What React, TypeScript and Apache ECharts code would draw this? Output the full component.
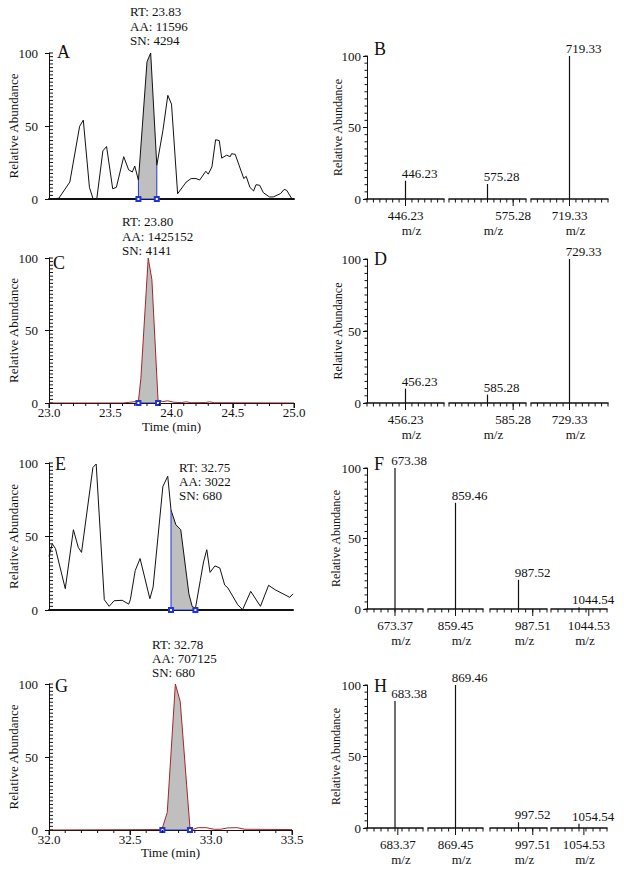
import React, { useEffect, useRef } from "react";
import * as echarts from "echarts";

const FONT = "Liberation Serif";
const BLACK = "#111111";
const RED = "#a3262a";
const BLUE = "#1f35d9";
const GRAY = "#bfbfbf";

// ---------- chromatograms (time, relative abundance) ----------
const chromA: [number, number][] = [
  [23.0, 0], [23.08, 0.5], [23.17, 11.6], [23.25, 49.8], [23.28, 54], [23.33, 8], [23.36, 0], [23.39, 0],
  [23.44, 33], [23.47, 36], [23.52, 7], [23.55, 8], [23.61, 29], [23.65, 20], [23.68, 18.5], [23.7, 22.6],
  [23.73, 12.8], [23.8, 94], [23.83, 100], [23.88, 23], [23.93, 47], [23.97, 71], [24.0, 65], [24.05, 3.6],
  [24.12, 11.6], [24.16, 14], [24.2, 14], [24.23, 13], [24.28, 19], [24.3, 17], [24.33, 22], [24.36, 40.6],
  [24.39, 40], [24.41, 28], [24.45, 30], [24.48, 29], [24.49, 31], [24.52, 30.6], [24.59, 14], [24.61, 15.5],
  [24.64, 8], [24.67, 5.5], [24.69, 9.8], [24.72, 9.4], [24.75, 4.3], [24.8, 1.4], [24.83, 1.4], [24.89, 3.7],
  [24.92, 6.6], [24.94, 6], [24.98, 0.5], [25.0, 0],
];
const windowA: [number, number] = [23.73, 23.88];
const notesA = ["RT: 23.83", "AA: 11596", "SN: 4294"];

const chromC: [number, number][] = [
  [23.0, 0], [23.6, 0], [23.66, 0.5], [23.73, 1.2], [23.75, 17], [23.81, 100], [23.84, 85], [23.89, 2],
  [23.93, 1], [23.97, 1.5], [24.02, 0.5], [24.08, 0.3], [24.12, 0.8], [24.16, 0.2], [24.28, 0.3], [24.31, 0.8],
  [24.35, 0.2], [25.0, 0],
];
const windowC: [number, number] = [23.73, 23.89];
const notesC = ["RT: 23.80", "AA: 1425152", "SN: 4141"];

const chromE: [number, number][] = [
  [32.0, 36.5], [32.02, 45], [32.04, 41.7], [32.1, 14.5], [32.15, 54.6], [32.18, 42.6], [32.2, 39.2], [32.27, 97],
  [32.29, 99.3], [32.34, 7], [32.37, 2.5], [32.4, 6.3], [32.45, 6.6], [32.49, 4], [32.5, 7], [32.53, 26.8],
  [32.56, 35], [32.62, 7.7], [32.64, 15.6], [32.7, 84], [32.73, 91], [32.75, 68], [32.78, 58], [32.81, 54.6],
  [32.86, 11], [32.88, 2.5], [32.9, 1], [32.93, 20], [32.95, 32.7], [32.97, 41], [32.99, 25.6], [33.02, 30],
  [33.05, 28.6], [33.08, 17], [33.1, 15], [33.16, 3.6], [33.19, 0.2], [33.24, 12.7], [33.3, 2.5], [33.35, 16.8],
  [33.39, 13.8], [33.48, 8.6], [33.5, 11],
];
const windowE: [number, number] = [32.75, 32.9];
const notesE = ["RT: 32.75", "AA: 3022", "SN: 680"];

const chromG: [number, number][] = [
  [32.0, 0], [32.68, 0.3], [32.7, 1.5], [32.73, 12], [32.78, 100], [32.81, 88], [32.87, 1.6], [32.89, 0.5],
  [32.92, 1.6], [32.97, 1.6], [33.02, 0.5], [33.06, 0.5], [33.1, 1.4], [33.16, 1.6], [33.21, 0.5], [33.5, 0.3],
];
const windowG: [number, number] = [32.7, 32.87];
const notesG = ["RT: 32.78", "AA: 707125", "SN: 680"];

// ---------- mass spectra ----------
const specBPeaks = ["446.23", "575.28", "719.33"];
const specBAxis = ["446.23", "575.28", "719.33"];
const specBHeights = [12.8, 10.5, 100];

const specDPeaks = ["456.23", "585.28", "729.33"];
const specDAxis = ["456.23", "585.28", "729.33"];
const specDHeights = [10, 5.8, 100];

const specFPeaks = ["673.38", "859.46", "987.52", "1044.54"];
const specFAxis = ["673.37", "859.45", "987.51", "1044.53"];
const specFHeights = [100, 75.3, 20.7, 1.2];

const specHPeaks = ["683.38", "869.46", "997.52", "1054.54"];
const specHAxis = ["683.37", "869.45", "997.51", "1054.53"];
const specHHeights = [88.8, 100, 4, 3];

// ---------- layout ----------
const chromLayout = {
  A: { left: 49, top: 53, width: 245, height: 146, xMin: 23, xMax: 25, showTime: false, color: BLACK, letter: [57, 52], notes: [130, 11.7] },
  C: { left: 49, top: 258, width: 245, height: 145, xMin: 23, xMax: 25, showTime: true, color: RED, letter: [53, 263], notes: [122, 221.7], timeGap: 17 },
  E: { left: 49, top: 463, width: 244, height: 147, xMin: 32, xMax: 33.5, showTime: false, color: BLACK, letter: [55, 464], notes: [179, 467.3] },
  G: { left: 49, top: 684, width: 243, height: 146, xMin: 32, xMax: 33.5, showTime: true, color: RED, letter: [55, 686], notes: [152, 644], timeGap: 16 },
};
const segs3: [number, number][] = [[367, 444], [449, 526], [531, 608]];
const segs4: [number, number][] = [[367, 423], [428, 483], [490, 547], [551, 607]];
const specLayout = {
  B: { top: 56, height: 143, segs: segs3, half: 6, labelPos: [0, 4, 0], yGap: 23, letter: [374, 49] },
  D: { top: 259, height: 144, segs: segs3, half: 6, labelPos: [0, 4, 0], yGap: 23, letter: [374, 259] },
  F: { top: 468, height: 141, segs: segs4, half: 4, labelPos: [0, 0, 2, 1.4], yGap: 24.6, letter: [374, 464] },
  H: { top: 685, height: 143, segs: segs4, half: 4, labelPos: [0.4, 0, 2, 0.7], yGap: 24.6, letter: [374, 686] },
};

function txt(size: number) {
  return { fontFamily: FONT, fontSize: size, color: BLACK };
}
function tl() {
  return { color: BLACK, width: 1 };
}
function hid() {
  return { show: false };
}
function steps(min: number, max: number, step: number): number[] {
  const n = Math.round((max - min) / step);
  const out: number[] = [];
  for (let k = 0; k <= n; k++) out.push(+(min + k * step).toFixed(6));
  return out;
}

function textEl(x: number, y: number, text: string, size: number) {
  return {
    type: "text",
    x,
    y,
    silent: true,
    style: {
      text,
      fill: BLACK,
      font: `${size}px "${FONT}"`,
      textAlign: "left",
      textVerticalAlign: "middle",
    },
  };
}

// tick marks drawn through the axes' own scales (custom series)
function yTicks(xi: number, yi: number, xRef: number, values: number[], dx0: number, dx1: number) {
  return {
    type: "custom", xAxisIndex: xi, yAxisIndex: yi, silent: true, clip: false, z: 6,
    data: values.map((v) => [xRef, v]),
    renderItem: (_p: any, api: any) => {
      const pt = api.coord([api.value(0), api.value(1)]);
      return {
        type: "line",
        shape: { x1: pt[0] + dx0, y1: pt[1], x2: pt[0] + dx1, y2: pt[1] },
        style: { stroke: BLACK, lineWidth: 1 },
      };
    },
  };
}
function xTicks(xi: number, yi: number, values: number[], lens: number[]) {
  return {
    type: "custom", xAxisIndex: xi, yAxisIndex: yi, silent: true, clip: false, z: 6,
    data: values.map((v, k) => [v, 0, lens[k]]),
    renderItem: (_p: any, api: any) => {
      const pt = api.coord([api.value(0), 0]);
      return {
        type: "line",
        shape: { x1: pt[0], y1: pt[1], x2: pt[0], y2: pt[1] + api.value(2) },
        style: { stroke: BLACK, lineWidth: 1 },
      };
    },
  };
}

function buildOption() {
  const grid: any[] = [];
  const xAxis: any[] = [];
  const yAxis: any[] = [];
  const series: any[] = [];
  const graphic: any[] = [];

  function addChrom(cfg: any, data: [number, number][], win: [number, number], notes: string[], letter: string) {
    const g = grid.length;
    grid.push({ left: cfg.left, top: cfg.top, width: cfg.width, height: cfg.height });
    const xi = xAxis.length;
    xAxis.push({
      gridIndex: g, type: "value", min: cfg.xMin, max: cfg.xMax, interval: 0.5, position: "bottom",
      axisLine: { show: true, onZero: false, lineStyle: { color: BLACK, width: cfg.showTime ? 1 : 2 } },
      axisTick: { show: cfg.showTime, length: 5, lineStyle: tl() },
      axisLabel: { show: cfg.showTime, margin: 3, formatter: (v: number) => v.toFixed(1), ...txt(13) },
      splitLine: hid(),
      name: cfg.showTime ? "Time (min)" : "", nameLocation: "middle", nameGap: cfg.timeGap || 16,
      nameMoveOverlap: false, nameTextStyle: txt(13),
    });
    const yi = yAxis.length;
    yAxis.push({
      gridIndex: g, type: "value", min: 0, max: 100, interval: 50, position: "left",
      axisLine: { show: true, onZero: false, lineStyle: tl() },
      axisTick: { show: true, length: 4, lineStyle: tl() },
      axisLabel: { margin: 11, ...txt(13) },
      splitLine: hid(),
      name: "Relative Abundance", nameLocation: "middle", nameGap: 29.5, nameMoveOverlap: false, nameTextStyle: txt(13),
    });
    const inWin = data.filter((p) => p[0] >= win[0] - 1e-9 && p[0] <= win[1] + 1e-9);
    const vs = inWin[0][1];
    const ve = inWin[inWin.length - 1][1];
    series.push({
      type: "line", xAxisIndex: xi, yAxisIndex: yi, data: inWin, symbol: "none", silent: true,
      lineStyle: { width: 0 }, areaStyle: { color: GRAY, opacity: 1 },
    });
    series.push({
      type: "line", xAxisIndex: xi, yAxisIndex: yi, data, symbol: "none", silent: true,
      lineStyle: { color: cfg.color, width: 1 },
    });
    series.push({
      type: "line", xAxisIndex: xi, yAxisIndex: yi, silent: true,
      data: [
        { value: [win[0], vs], symbol: "none" },
        [win[0], 0],
        [win[1], 0],
        { value: [win[1], ve], symbol: "none" },
      ],
      symbol: "emptyRect", symbolSize: 4, showSymbol: true,
      lineStyle: { color: BLUE, width: 1 }, itemStyle: { color: BLUE, borderColor: BLUE, borderWidth: 1 },
    });
    // dense inner minor ticks on the abundance axis
    series.push(yTicks(xi, yi, cfg.xMin, steps(0, 100, 2.5), 0, 4));
    if (cfg.showTime) {
      const tv = steps(cfg.xMin, cfg.xMax, 0.1);
      series.push(xTicks(xi, yi, tv, tv.map((_v, k) => (k % 5 === 0 ? 5 : 3))));
    }
    graphic.push(textEl(cfg.letter[0], cfg.letter[1], letter, 18));
    notes.forEach((n, i) => graphic.push(textEl(cfg.notes[0], cfg.notes[1] + i * 14.3, n, 13)));
  }

  function addSpec(cfg: any, peaks: string[], axisLabels: string[], heights: number[], letter: string) {
    cfg.segs.forEach(([l, r]: [number, number], i: number) => {
      const g = grid.length;
      grid.push({ left: l, top: cfg.top, width: r - l, height: cfg.height });
      const xi = xAxis.length;
      xAxis.push({
        gridIndex: g, type: "value", min: -cfg.half, max: cfg.half, position: "bottom",
        axisLine: { show: true, onZero: false, lineStyle: { color: BLACK, width: 1.5 } },
        axisTick: { show: false },
        axisLabel: { show: true, customValues: [cfg.labelPos[i]], formatter: () => axisLabels[i], margin: 10, ...txt(13) },
        splitLine: hid(),
        name: "m/z", nameLocation: "middle", nameGap: 25, nameMoveOverlap: false,
        nameTextStyle: { ...txt(13), padding: [0, 0, 0, 12] },
      });
      const yi = yAxis.length;
      if (i === 0) {
        yAxis.push({
          gridIndex: g, type: "value", min: 0, max: 100, interval: 50, position: "left",
          axisLine: { show: true, onZero: false, lineStyle: tl() },
          axisTick: { show: true, length: 4, lineStyle: tl() },
          axisLabel: { margin: 6, ...txt(13) },
          splitLine: hid(),
          name: "Relative Abundance", nameLocation: "middle", nameGap: cfg.yGap, nameMoveOverlap: false,
          nameTextStyle: txt(12),
        });
        series.push(yTicks(xi, yi, -cfg.half, steps(0, 100, 5), -2.5, 0));
      } else {
        yAxis.push({
          gridIndex: g, type: "value", min: 0, max: 100, position: "left", show: false,
          axisLine: { show: false, onZero: false }, splitLine: hid(),
        });
      }
      series.push({
        type: "bar", xAxisIndex: xi, yAxisIndex: yi, data: [[0, heights[i]]], barWidth: 1.2, silent: true,
        itemStyle: { color: BLACK },
        label: { show: true, position: "top", distance: 1, offset: [14, 0], formatter: peaks[i], ...txt(13) },
      });
      const tv = steps(-cfg.half, cfg.half, 1).concat([cfg.labelPos[i]]);
      series.push(xTicks(xi, yi, tv, tv.map((_v, k) => (k === tv.length - 1 ? 7 : 3.5))));
    });
    graphic.push(textEl(cfg.letter[0], cfg.letter[1], letter, 18));
  }

  addChrom(chromLayout.A, chromA, windowA, notesA, "A");
  addChrom(chromLayout.C, chromC, windowC, notesC, "C");
  addChrom(chromLayout.E, chromE, windowE, notesE, "E");
  addChrom(chromLayout.G, chromG, windowG, notesG, "G");
  addSpec(specLayout.B, specBPeaks, specBAxis, specBHeights, "B");
  addSpec(specLayout.D, specDPeaks, specDAxis, specDHeights, "D");
  addSpec(specLayout.F, specFPeaks, specFAxis, specFHeights, "F");
  addSpec(specLayout.H, specHPeaks, specHAxis, specHHeights, "H");

  return {
    animation: false,
    backgroundColor: "#ffffff",
    textStyle: { fontFamily: FONT },
    grid,
    xAxis,
    yAxis,
    series,
    graphic,
  };
}

export default function App() {
  const ref = useRef<HTMLDivElement>(null);
  useEffect(() => {
    if (!ref.current) return;
    const chart = echarts.init(ref.current, undefined, { renderer: "svg" });
    chart.setOption(buildOption() as any);
    return () => chart.dispose();
  }, []);
  return (
    <div
      ref={ref}
      style={{ position: "fixed", left: 0, top: 0, width: 624, height: 869, background: "#fff" }}
    />
  );
}
